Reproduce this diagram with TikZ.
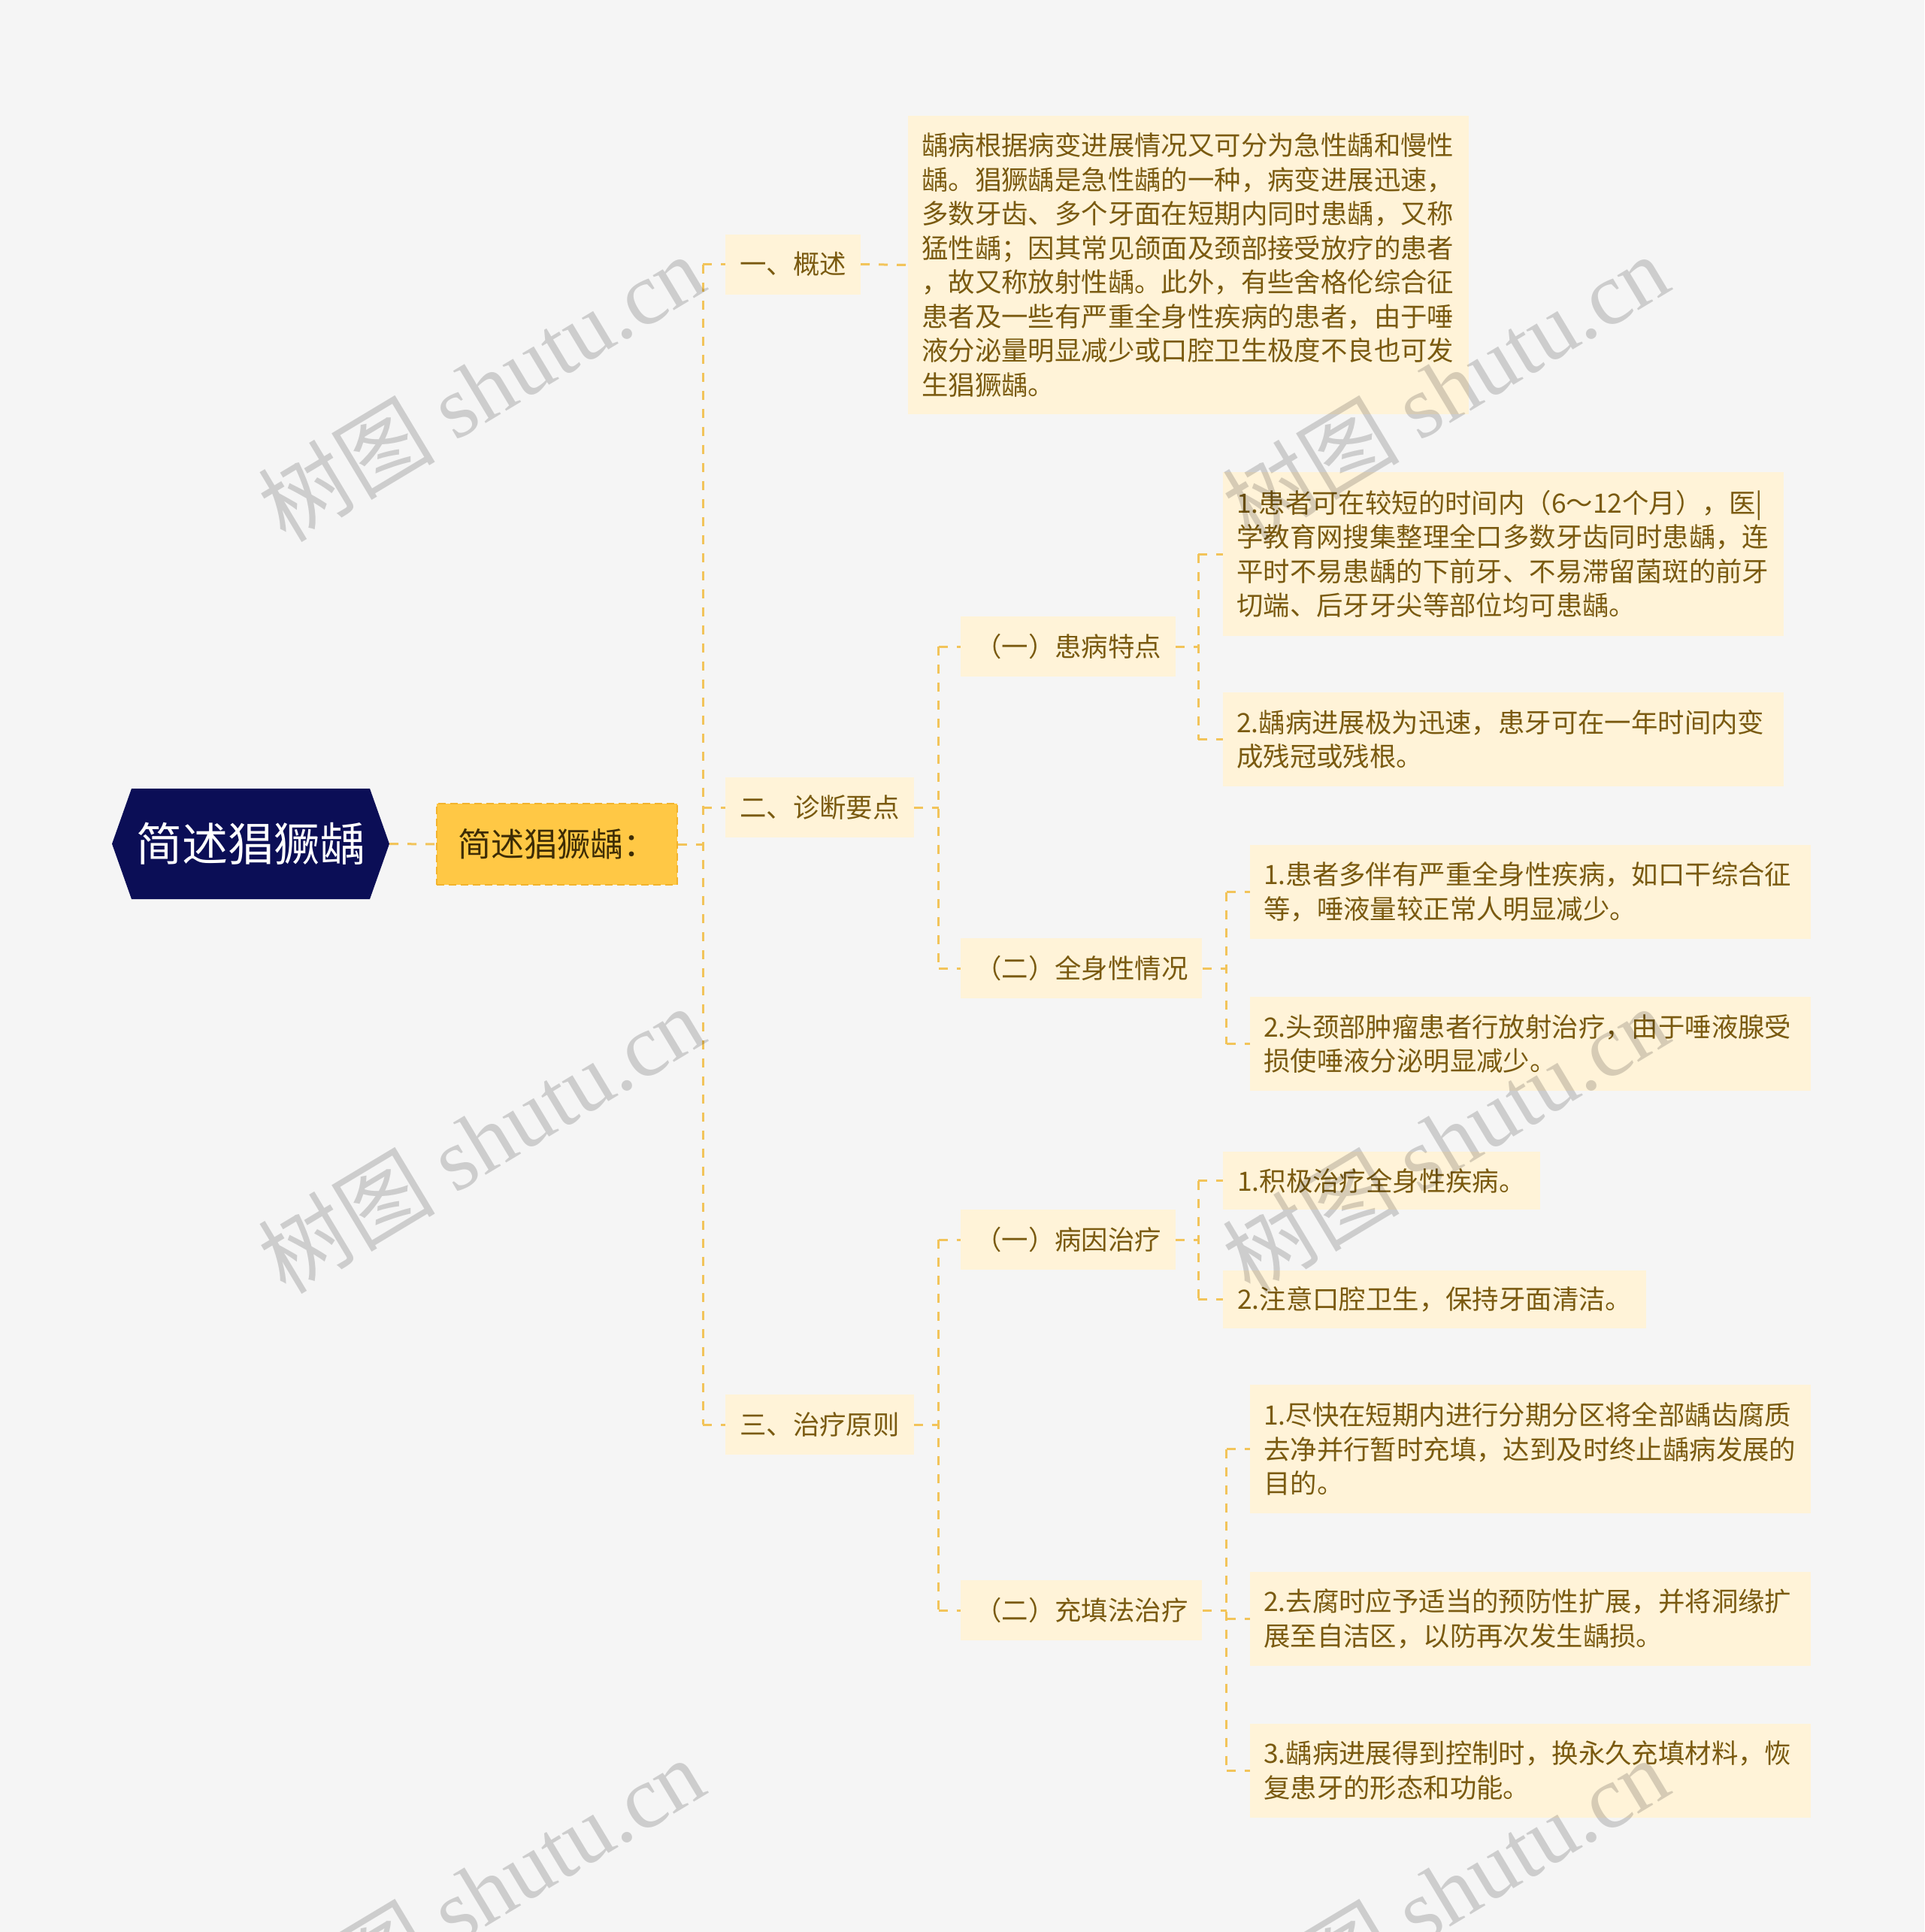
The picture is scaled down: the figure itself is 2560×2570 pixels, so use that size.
\documentclass[tikz,border=0pt]{standalone}
\usepackage{fontspec}
\setmainfont{Noto Sans CJK SC}
\newfontfamily\wmlatin{Liberation Serif}
\usetikzlibrary{calc}
\definecolor{bgc}{HTML}{F5F5F5}
\definecolor{boxc}{HTML}{FFF3D8}
\definecolor{txtc}{HTML}{7A5A10}
\definecolor{linec}{HTML}{F2C45A}
\definecolor{rootc}{HTML}{0B0E56}
\definecolor{lonec}{HTML}{FFC845}
\definecolor{lonebd}{HTML}{F2B32C}
\definecolor{lonetxt}{HTML}{3D2C05}
\begin{document}
\begin{tikzpicture}[x=1pt,y=-1pt,
  conn/.style={draw=linec, line width=3pt, dash pattern=on 12pt off 12pt},
  body/.style={font=\fontsize{35.4}{45.5}\selectfont, text=txtc},
  lab/.style={body, fill=boxc, inner xsep=19pt, inner ysep=0pt, minimum height=80pt, anchor=west},
  leaf/.style={body, fill=boxc, inner xsep=18pt, inner ysep=0pt, align=left, text width=710pt, anchor=west},
  rootn/.style={minimum width=369pt, minimum height=147pt, inner sep=0pt, fill=bgc, text=white,
    font=\fontsize{61}{61}\selectfont,
    path picture={\fill[rootc] (path picture bounding box.west)
      -- ([xshift=26pt]path picture bounding box.north west)
      -- ([xshift=-26pt]path picture bounding box.north east)
      -- (path picture bounding box.east)
      -- ([xshift=-26pt]path picture bounding box.south east)
      -- ([xshift=26pt]path picture bounding box.south west) -- cycle;}},
  lone/.style={minimum width=320pt, minimum height=108pt, inner sep=0pt, fill=lonec,
    draw=lonebd, line width=2.5pt, dash pattern=on 10pt off 6pt, text=lonetxt,
    font=\fontsize{44}{44}\selectfont},
  wm/.style={rotate=31, text=black, text opacity=0.16, font=\fontsize{118}{118}\selectfont}]
\fill[bgc] (0,0) rectangle (2560,2570);
\useasboundingbox (0,0) rectangle (2560,2570);

% nodes
\node[rootn] (root) at (333.5,1122.5) {简述猖獗龋};
\node[lone] (l1) at (741,1123) {简述猖獗龋：};
\node[lab] (a) at (965,351.5) {一、概述};
\node[lab] (b) at (965,1074) {二、诊断要点};
\node[lab] (c) at (965,1895) {三、治疗原则};
\node[leaf, minimum height=397pt] (a1) at (1208,352.5) {龋病根据病变进展情况又可分为急性龋和慢性\\龋。猖獗龋是急性龋的一种，病变进展迅速，\\多数牙齿、多个牙面在短期内同时患龋，又称\\猛性龋；因其常见颌面及颈部接受放疗的患者\\，故又称放射性龋。此外，有些舍格伦综合征\\患者及一些有严重全身性疾病的患者，由于唾\\液分泌量明显减少或口腔卫生极度不良也可发\\生猖獗龋。};
\node[lab] (b1) at (1278,860) {（一）患病特点};
\node[lab] (b2) at (1278,1288) {（二）全身性情况};
\node[lab] (c1) at (1278,1649) {（一）病因治疗};
\node[lab] (c2) at (1278,2142) {（二）充填法治疗};
\node[leaf, minimum height=218pt] (b1a) at (1627,737) {1.患者可在较短的时间内（6～12个月），医|\\学教育网搜集整理全口多数牙齿同时患龋，连\\平时不易患龋的下前牙、不易滞留菌斑的前牙\\切端、后牙牙尖等部位均可患龋。};
\node[leaf, minimum height=125pt] (b1b) at (1627,983.5) {2.龋病进展极为迅速，患牙可在一年时间内变\\成残冠或残根。};
\node[leaf, minimum height=125pt] (b2a) at (1663,1186.5) {1.患者多伴有严重全身性疾病，如口干综合征\\等，唾液量较正常人明显减少。};
\node[leaf, minimum height=125pt] (b2b) at (1663,1388.5) {2.头颈部肿瘤患者行放射治疗，由于唾液腺受\\损使唾液分泌明显减少。};
\node[lab, minimum height=77pt] (c1a) at (1627,1570.5) {1.积极治疗全身性疾病。};
\node[lab, minimum height=77pt] (c1b) at (1627,1728.5) {2.注意口腔卫生，保持牙面清洁。};
\node[leaf, minimum height=171pt] (c2a) at (1663,1927.5) {1.尽快在短期内进行分期分区将全部龋齿腐质\\去净并行暂时充填，达到及时终止龋病发展的\\目的。};
\node[leaf, minimum height=125pt] (c2b) at (1663,2153.5) {2.去腐时应予适当的预防性扩展，并将洞缘扩\\展至自洁区，以防再次发生龋损。};
\node[leaf, minimum height=125pt] (c2c) at (1663,2355) {3.龋病进展得到控制时，换永久充填材料，恢\\复患牙的形态和功能。};

% connectors
\draw[conn] (root.east) -- (l1.west);
\coordinate (s0) at ($(l1.east)+(33,0)$);
\draw[conn] (l1.east) -- (s0);
\draw[conn] (s0 |- a.west) -- (s0 |- c.west);
\foreach \t in {a,b,c} \draw[conn] (s0 |- \t.west) -- (\t.west);
\draw[conn] (a.east) -- (a1.west);

\coordinate (sb) at ($(b.east)+(33,0)$);
\draw[conn] (b.east) -- (sb);
\draw[conn] (sb |- b1.west) -- (sb |- b2.west);
\foreach \t in {b1,b2} \draw[conn] (sb |- \t.west) -- (\t.west);

\coordinate (sc) at ($(c.east)+(33,0)$);
\draw[conn] (c.east) -- (sc);
\draw[conn] (sc |- c1.west) -- (sc |- c2.west);
\foreach \t in {c1,c2} \draw[conn] (sc |- \t.west) -- (\t.west);

\coordinate (sb1) at ($(b1.east)+(30,0)$);
\draw[conn] (b1.east) -- (sb1);
\draw[conn] (sb1 |- b1a.west) -- (sb1 |- b1b.west);
\foreach \t in {b1a,b1b} \draw[conn] (sb1 |- \t.west) -- (\t.west);

\coordinate (sb2) at ($(b2.east)+(32,0)$);
\draw[conn] (b2.east) -- (sb2);
\draw[conn] (sb2 |- b2a.west) -- (sb2 |- b2b.west);
\foreach \t in {b2a,b2b} \draw[conn] (sb2 |- \t.west) -- (\t.west);

\coordinate (sc1) at ($(c1.east)+(30,0)$);
\draw[conn] (c1.east) -- (sc1);
\draw[conn] (sc1 |- c1a.west) -- (sc1 |- c1b.west);
\foreach \t in {c1a,c1b} \draw[conn] (sc1 |- \t.west) -- (\t.west);

\coordinate (sc2) at ($(c2.east)+(32,0)$);
\draw[conn] (c2.east) -- (sc2);
\draw[conn] (sc2 |- c2a.west) -- (sc2 |- c2c.west);
\foreach \t in {c2a,c2b,c2c} \draw[conn] (sc2 |- \t.west) -- (\t.west);

% watermarks
\node[wm] (wm1) at (640,515) {树图 {\wmlatin shutu.cn}};
\node[wm] (wm2) at (1923,515) {树图 {\wmlatin shutu.cn}};
\node[wm] (wm3) at (640,1515) {树图 {\wmlatin shutu.cn}};
\node[wm] (wm4) at (1923,1515) {树图 {\wmlatin shutu.cn}};
\node[wm] (wm5) at (640,2515) {树图 {\wmlatin shutu.cn}};
\node[wm] (wm6) at (1923,2515) {树图 {\wmlatin shutu.cn}};
\end{tikzpicture}
\end{document}
